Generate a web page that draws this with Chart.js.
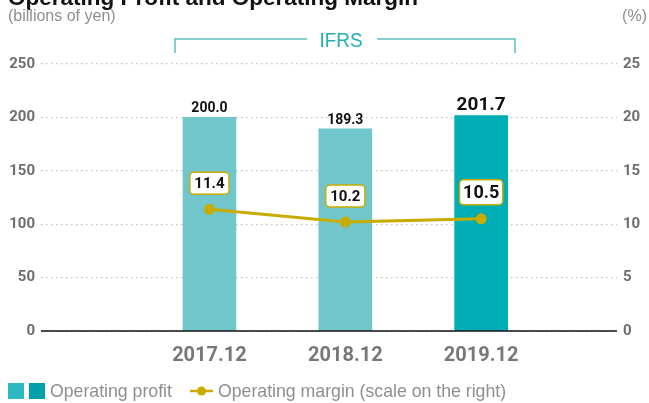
<!DOCTYPE html>
<html>
<head>
<meta charset="utf-8">
<script src="https://cdn.jsdelivr.net/npm/chart.js@4"></script>
<style>
html,body{margin:0;padding:0;background:#fff;}
#wrap{width:649px;height:403px;position:relative;}
</style>
</head>
<body>
<div id="wrap"><canvas id="c" width="649" height="403"></canvas></div>
<script>
const categories = ["2017.12", "2018.12", "2019.12"];
const operatingProfit = [200.0, 189.3, 201.7];
const operatingMargin = [11.4, 10.2, 10.5];
const leftTicks = [0, 50, 100, 150, 200, 250];
const rightTicks = [0, 5, 10, 15, 20, 25];

const TEAL_LIGHT = '#70C6CB';
const TEAL_DARK = '#00ADB5';
const GOLD = '#C8AC00';
const TICKFONT = "'Roboto', sans-serif";

const overlay = {
  id: 'overlay',
  beforeDraw(chart) {
    const ctx = chart.ctx;
    ctx.save();
    ctx.fillStyle = '#fff';
    ctx.fillRect(0, 0, chart.width, chart.height);
    ctx.restore();
  },
  afterDatasetsDraw(chart) {
    const ctx = chart.ctx;
    const area = chart.chartArea;
    const y = chart.scales.y;
    ctx.save();
    ctx.strokeStyle = '#111';
    ctx.lineWidth = 1.5;
    ctx.beginPath();
    ctx.moveTo(area.left, y.getPixelForValue(0));
    ctx.lineTo(area.right, y.getPixelForValue(0));
    ctx.stroke();
    ctx.restore();
  },
  afterDraw(chart) {
    const ctx = chart.ctx;
    ctx.save();
    // title (cut off at top)
    ctx.fillStyle = '#111';
    ctx.font = "bold 22.5px 'Liberation Sans', Arial, sans-serif";
    ctx.textBaseline = 'alphabetic';
    ctx.textAlign = 'left';
    ctx.fillText('Operating Profit and Operating Margin', 8, 5);
    // units
    ctx.fillStyle = '#8f8f8f';
    ctx.font = "16px 'Liberation Sans', Arial, sans-serif";
    ctx.textBaseline = 'middle';
    ctx.fillText('(billions of yen)', 8, 17);
    ctx.textAlign = 'right';
    ctx.fillText('(%)', 647, 17);
    // IFRS bracket
    ctx.strokeStyle = '#5CC0C3';
    ctx.lineWidth = 1.5;
    ctx.beginPath();
    ctx.moveTo(175, 53); ctx.lineTo(175, 39); ctx.lineTo(307, 39);
    ctx.moveTo(377, 39); ctx.lineTo(515, 39); ctx.lineTo(515, 53);
    ctx.stroke();
    ctx.fillStyle = '#22AEB2';
    ctx.font = "21px 'Liberation Sans', Arial, sans-serif";
    ctx.textAlign = 'center';
    ctx.textBaseline = 'middle';
    ctx.save();
    ctx.translate(341, 41);
    ctx.scale(0.9, 1);
    ctx.fillText('IFRS', 0, 0);
    ctx.restore();

    // bar labels
    const barMeta = chart.getDatasetMeta(0);
    barMeta.data.forEach((bar, i) => {
      const last = i === barMeta.data.length - 1;
      ctx.fillStyle = '#111';
      ctx.font = (last ? "bold 19px " : "bold 14px ") + "'Roboto', sans-serif";
      ctx.textAlign = 'center';
      ctx.textBaseline = 'alphabetic';
      ctx.fillText(operatingProfit[i].toFixed(1), bar.x, bar.y - (last ? 6 : 5));
    });
    // line labels
    const lineMeta = chart.getDatasetMeta(1);
    lineMeta.data.forEach((pt, i) => {
      const last = i === lineMeta.data.length - 1;
      const txt = operatingMargin[i].toFixed(1);
      ctx.font = (last ? "bold 18px " : "bold 15px ") + "'Roboto', sans-serif";
      const w = ctx.measureText(txt).width + (last ? 7 : 9);
      const h = last ? 25 : 22;
      const cy = pt.y - (last ? 26.5 : 26);
      const bx = pt.x - w / 2, by = cy - h / 2;
      ctx.beginPath();
      ctx.roundRect(bx, by, w, h, 4);
      ctx.fillStyle = '#fff';
      ctx.fill();
      ctx.strokeStyle = GOLD;
      ctx.lineWidth = 1.5;
      ctx.stroke();
      ctx.fillStyle = '#111';
      ctx.textAlign = 'center';
      ctx.textBaseline = 'middle';
      ctx.fillText(txt, pt.x, cy + 1);
    });

    // legend
    ctx.fillStyle = '#2BB8C0';
    ctx.fillRect(8, 383, 16, 16);
    ctx.fillStyle = '#00A1AA';
    ctx.fillRect(29, 383, 16, 16);
    ctx.fillStyle = '#8f8f8f';
    ctx.font = "17.7px 'Liberation Sans', Arial, sans-serif";
    ctx.textAlign = 'left';
    ctx.textBaseline = 'middle';
    ctx.fillText('Operating profit', 50, 392);
    ctx.strokeStyle = GOLD;
    ctx.lineWidth = 2.5;
    ctx.beginPath();
    ctx.moveTo(190, 391); ctx.lineTo(213, 391);
    ctx.stroke();
    ctx.fillStyle = GOLD;
    ctx.beginPath();
    ctx.arc(201.5, 391, 4.5, 0, Math.PI * 2);
    ctx.fill();
    ctx.fillStyle = '#8f8f8f';
    ctx.fillText('Operating margin (scale on the right)', 218, 392);
    ctx.restore();
  }
};

const barData = categories.map((c, i) => ({ x: i, y: operatingProfit[i] }));
const lineData = categories.map((c, i) => ({ x: i, y: operatingMargin[i] }));

new Chart(document.getElementById('c'), {
  type: 'bar',
  data: {
    datasets: [
      {
        type: 'bar',
        label: 'Operating profit',
        data: barData,
        backgroundColor: operatingProfit.map((v, i) => i === operatingProfit.length - 1 ? TEAL_DARK : TEAL_LIGHT),
        barThickness: 53,
        yAxisID: 'y',
        order: 2
      },
      {
        type: 'line',
        label: 'Operating margin (scale on the right)',
        data: lineData,
        borderColor: GOLD,
        backgroundColor: GOLD,
        borderWidth: 3,
        pointRadius: 5.5,
        pointHoverRadius: 5.5,
        pointBackgroundColor: GOLD,
        pointBorderWidth: 0,
        tension: 0,
        yAxisID: 'y1',
        order: 1
      }
    ]
  },
  options: {
    responsive: false,
    animation: false,
    events: [],
    layout: { padding: { top: 64, bottom: 0, left: 0, right: 0 } },
    plugins: { legend: { display: false }, tooltip: { enabled: false }, title: { display: false } },
    scales: {
      x: {
        type: 'linear',
        min: -1.24,
        max: 3.0,
        offset: false,
        grid: { display: false },
        border: { display: false },
        afterBuildTicks(scale) { scale.ticks = categories.map((c, i) => ({ value: i })); },
        afterFit(scale) { scale.height = 72; },
        ticks: {
          autoSkip: false,
          maxRotation: 0,
          padding: 5,
          color: '#777777',
          font: { family: TICKFONT, size: 20, weight: 'bold' },
          callback: (v) => categories[v] !== undefined ? categories[v] : ''
        }
      },
      y: {
        position: 'left',
        min: 0, max: 250,
        afterBuildTicks(scale) { scale.ticks = leftTicks.map(v => ({ value: v })); },
        afterFit(scale) { scale.width = 41; },
        grid: { color: '#c2c2c2', lineWidth: 1.2, drawTicks: false },
        border: { display: false, dash: [1.5, 3.5] },
        ticks: { padding: 6, color: '#6e6e6e', font: { family: TICKFONT, size: 15, weight: 'bold' } }
      },
      y1: {
        position: 'right',
        min: 0, max: 25,
        afterBuildTicks(scale) { scale.ticks = rightTicks.map(v => ({ value: v })); },
        afterFit(scale) { scale.width = 32; },
        grid: { display: false, drawTicks: false },
        border: { display: false },
        ticks: { padding: 6, color: '#6e6e6e', font: { family: TICKFONT, size: 15, weight: 'bold' } }
      }
    }
  },
  plugins: [overlay]
});
</script>
</body>
</html>
